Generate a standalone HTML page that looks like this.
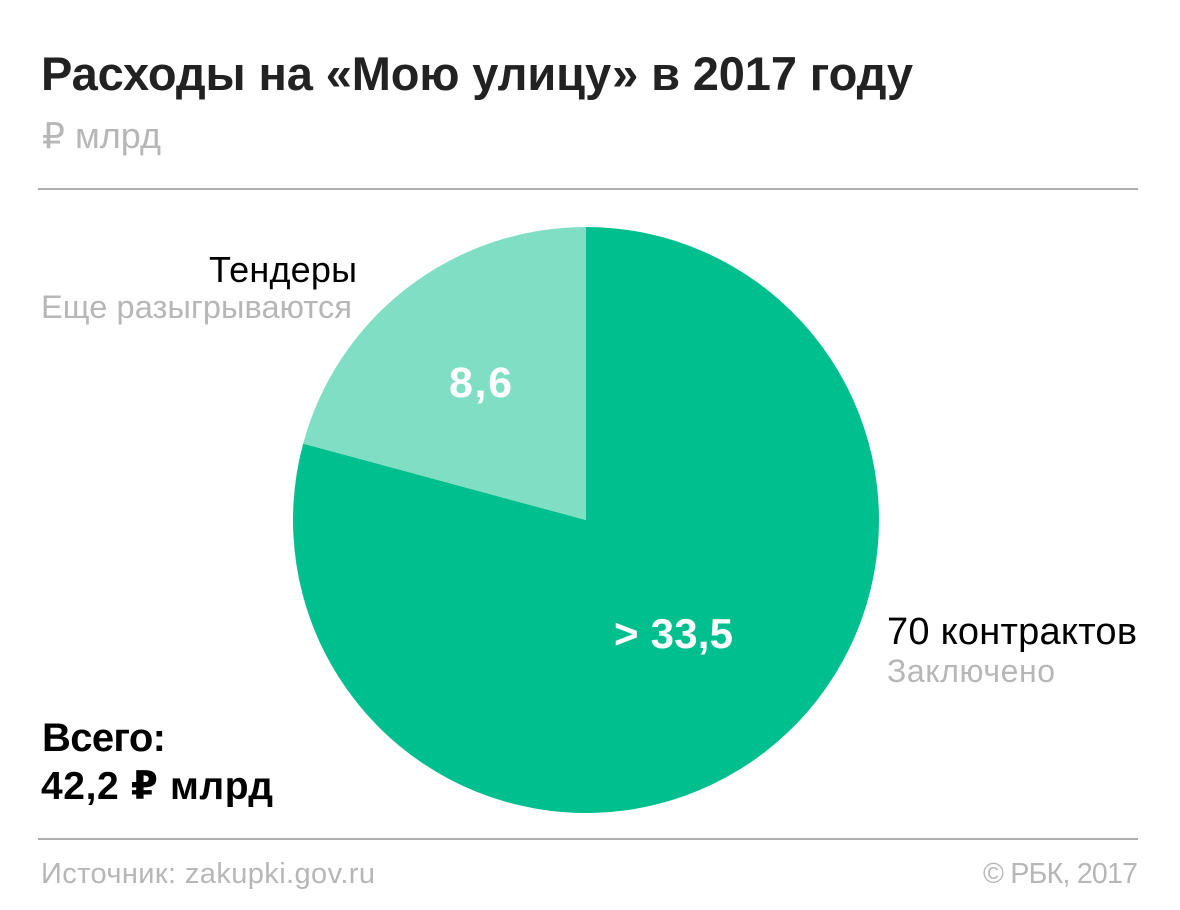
<!DOCTYPE html>
<html lang="ru">
<head>
<meta charset="utf-8">
<title>Расходы на «Мою улицу» в 2017 году</title>
<style>
html,body{margin:0;padding:0;background:#fff;width:1180px;height:910px;overflow:hidden}
svg{display:block}
text{font-family:"Liberation Sans","DejaVu Sans",sans-serif}
.b{font-weight:700}
.grey{fill:#b7b7b7}
</style>
</head>
<body>
<svg id="chart" width="1180" height="910" viewBox="0 0 1180 910" xmlns="http://www.w3.org/2000/svg">
  <text class="b" x="41" y="90" font-size="47" fill="#222" textLength="872" lengthAdjust="spacing">Расходы на «Мою улицу» в 2017 году</text>
  <text class="grey" x="42" y="148" font-size="36" textLength="119" lengthAdjust="spacing">₽ млрд</text>
  <rect x="38" y="188" width="1100" height="2" fill="#aeaeae"/>
  <g id="slices"></g>
  <text x="357" y="282" font-size="36" fill="#000" text-anchor="end" textLength="148" lengthAdjust="spacing">Тендеры</text>
  <text class="grey" x="352" y="318" font-size="32.5" text-anchor="end" textLength="311" lengthAdjust="spacing">Еще разыгрываются</text>
  <text class="b" x="449" y="397" font-size="43" fill="#fff" textLength="63" lengthAdjust="spacing">8,6</text>
  <text class="b" x="614" y="648" font-size="42" fill="#fff" textLength="119" lengthAdjust="spacing">&gt; 33,5</text>
  <text x="887" y="644" font-size="38" fill="#000" textLength="250" lengthAdjust="spacing">70 контрактов</text>
  <text class="grey" x="887" y="682" font-size="32" textLength="168" lengthAdjust="spacing">Заключено</text>
  <text class="b" x="42" y="751" font-size="40" fill="#000" textLength="124" lengthAdjust="spacing">Всего:</text>
  <text class="b" x="41" y="799" font-size="39" fill="#000" textLength="232" lengthAdjust="spacing">42,2 ₽ млрд</text>
  <rect x="38" y="838" width="1100" height="2" fill="#aeaeae"/>
  <text class="grey" x="41" y="883" font-size="29" textLength="334" lengthAdjust="spacing">Источник: zakupki.gov.ru</text>
  <text class="grey" x="1138" y="883" font-size="28.5" text-anchor="end" textLength="155" lengthAdjust="spacing">© РБК, 2017</text>
</svg>
<script>
var sliceNames = ['contracts', 'tenders'];
var sliceValues = [33.5, 8.8];
var sliceColors = ['#00bf8e', '#80dec4'];

var cx = 586, cy = 520, radius = 293;
var totalValue = sliceValues.reduce(function (a, b) { return a + b; }, 0);

function angleOf(value) { return value / totalValue * 2 * Math.PI; }
function pointAt(angle) {
  return [cx + radius * Math.sin(angle), cy - radius * Math.cos(angle)];
}

var group = document.getElementById('slices');
var startAngle = 0;
sliceValues.forEach(function (value, i) {
  var sweep = angleOf(value);
  var endAngle = startAngle + sweep;
  var a = pointAt(startAngle), b = pointAt(endAngle);
  var large = sweep > Math.PI ? 1 : 0;
  var el = document.createElementNS('http://www.w3.org/2000/svg', 'path');
  el.setAttribute('d', 'M' + cx + ' ' + cy + 'L' + a[0] + ' ' + a[1] + 'A' + radius + ' ' + radius + ' 0 ' + large + ' 1 ' + b[0] + ' ' + b[1] + 'Z');
  el.setAttribute('fill', sliceColors[i]);
  
  
  group.appendChild(el);
  startAngle = endAngle;
});
</script>
</body>
</html>
